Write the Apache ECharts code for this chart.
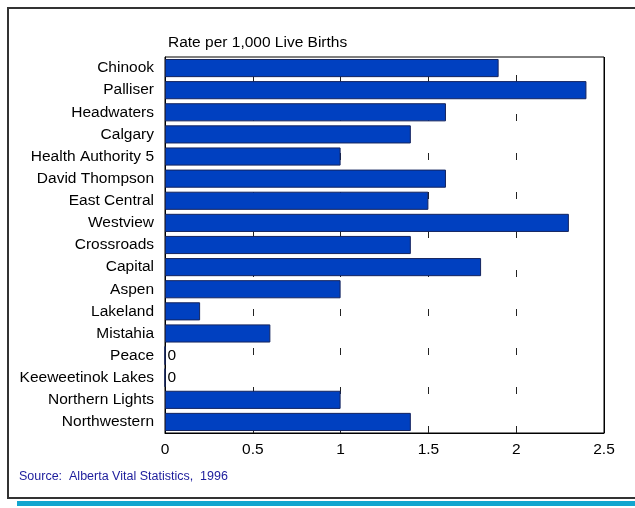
<!DOCTYPE html>
<html>
<head>
<meta charset="utf-8">
<title>Rate per 1,000 Live Births</title>
<script src="https://cdn.jsdelivr.net/npm/echarts@6/dist/echarts.min.js"></script>
<style>
  html, body { margin: 0; padding: 0; background: #fff; }
  #chart { width: 635px; height: 508px; }
</style>
</head>
<body>
<div id="chart"></div>
<script>
// regions, top to bottom
const regions = [
  'Chinook', 'Palliser', 'Headwaters', 'Calgary', 'Health Authority 5',
  'David Thompson', 'East Central', 'Westview', 'Crossroads', 'Capital',
  'Aspen', 'Lakeland', 'Mistahia', 'Peace', 'Keeweetinok Lakes',
  'Northern Lights', 'Northwestern'
];
// rate per 1,000 live births
const rates = [1.9, 2.4, 1.6, 1.4, 1.0, 1.6, 1.5, 2.3, 1.4, 1.8, 1.0, 0.2, 0.6, 0, 0, 1.0, 1.4];
const xTicks = [0, 0.5, 1, 1.5, 2, 2.5];

const axisTitle = 'Rate per 1,000 Live Births';
const source = 'Source:  Alberta Vital Statistics,  1996';

const font = 'Arial, "Liberation Sans", sans-serif';

// zero bars get a "0" label, the rest stay unlabelled
const barData = rates.map(v => v === 0 ? { value: v, label: { show: true } } : v);

const chart = echarts.init(document.getElementById('chart'));
chart.setOption({
  animation: false,
  textStyle: { fontFamily: font },
  grid: {
    left: 165, right: 31, top: 57, bottom: 75,
    show: true, borderColor: '#000', borderWidth: 1, backgroundColor: 'transparent'
  },
  xAxis: {
    type: 'value',
    min: xTicks[0],
    max: xTicks[xTicks.length - 1],
    interval: 0.5,
    axisLine: { show: true, lineStyle: { color: '#000' } },
    axisTick: { show: false },
    axisLabel: { color: '#000', fontSize: 15.5, margin: 9, fontFamily: font },
    splitLine: {
      show: true,
      lineStyle: { color: '#222', width: 1, type: [7, 32], dashOffset: 21 }
    }
  },
  yAxis: {
    type: 'category',
    data: regions,
    inverse: true,
    axisLine: { show: true, lineStyle: { color: '#000' } },
    axisTick: { show: false },
    axisLabel: { color: '#000', fontSize: 15.5, margin: 11, fontFamily: font }
  },
  series: [{
    type: 'bar',
    data: barData,
    barCategoryGap: '18%',
    itemStyle: { color: '#0040c0', borderColor: '#14245e', borderWidth: 1 },
    label: {
      show: false, position: 'right', distance: 2,
      formatter: '{c}', color: '#000', fontSize: 15.5, fontFamily: font
    }
  }],
  graphic: [
    // outer frame
    {
      type: 'rect', z: -1,
      shape: { x: 8, y: 8, width: 640, height: 490 },
      style: { fill: 'none', stroke: '#333', lineWidth: 2 }
    },
    {
      type: 'rect', z: -1,
      shape: { x: 17, y: 501, width: 630, height: 5 },
      style: { fill: '#12a6cf' }
    },
    // cover the dash at the right border
    {
      type: 'rect', z: 100,
      shape: { x: 604, y: 57, width: 1, height: 376 },
      style: { fill: '#000' }
    },
    {
      type: 'text', left: 168, top: 35,
      style: { text: axisTitle, fill: '#000', fontSize: 15.5, fontFamily: font }
    },
    {
      type: 'text', left: 19, top: 470,
      style: { text: source, fill: '#1c1c9c', fontSize: 12.5, fontFamily: font }
    }
  ]
});
</script>
</body>
</html>
